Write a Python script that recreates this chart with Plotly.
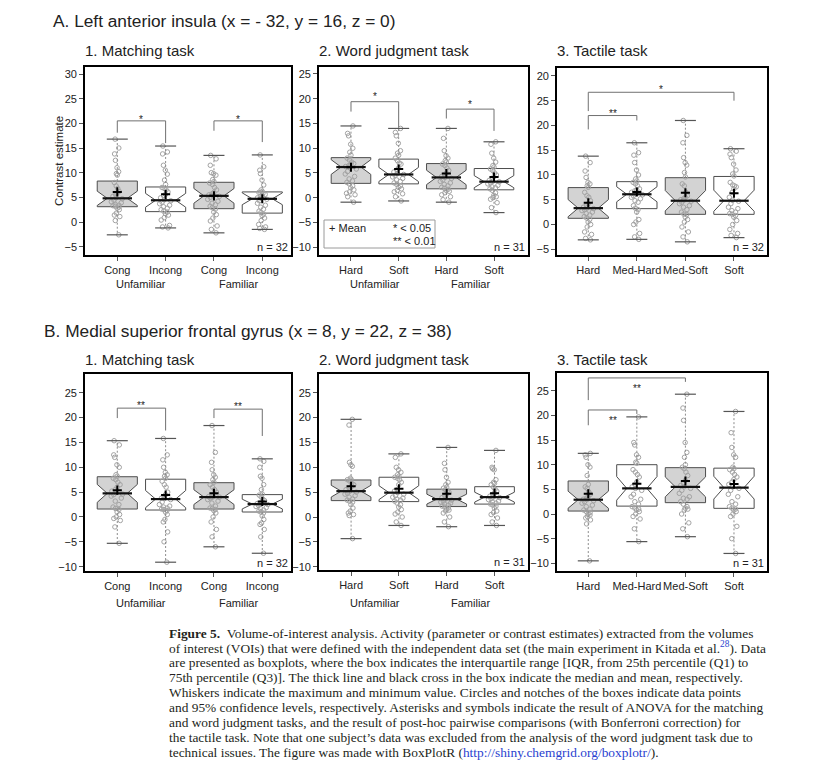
import plotly.graph_objects as go

# page is shown with an 8px body margin; figure sized to fit inside 813x771
W, H = 813, 771
OFF = 8
FW, FH = W - 2 * OFF, H - 2 * OFF
SANS = "Liberation Sans, Arial, sans-serif"
SERIF = "Liberation Serif, Times New Roman, serif"

# ---------------- data ----------------
match_cats = ["Cong", "Incong", "Cong", "Incong"]
match_groups = ["Unfamiliar", "Familiar"]
word_cats = ["Hard", "Soft", "Hard", "Soft"]
word_groups = ["Unfamiliar", "Familiar"]
tactile_cats = ["Hard", "Med-Hard", "Med-Soft", "Soft"]

yticks_a1 = [-5, 0, 5, 10, 15, 20, 25, 30]
yticks_a3 = [-5, 0, 5, 10, 15, 20, 25, 30]
yticktext_a3 = ["\u22125", "0", "5", "10", "15", "20", "25", "20"]
yticks_b = [-10, -5, 0, 5, 10, 15, 20, 25]

# A1 matching task (n = 32)
a1_q1 = [3.1, 2.1, 2.7, 1.8]
a1_median = [4.8, 4.4, 5.3, 4.7]
a1_q3 = [8.3, 7.1, 8.05, 6.1]
a1_min = [-2.6, -1.2, -2.2, -1.5]
a1_max = [16.8, 15.4, 13.5, 13.6]
a1_mean = [6.1, 5.6, 5.3, 4.7]
a1_notch = [1.45, 1.40, 1.49, 1.20]
a1_points = [
    [16.8, 15.0, 13.8, 12.5, 11.0, 10.2, 9.8, 9.5, 8.0, 7.3, 6.8, 6.2, 5.9, 5.5, 5.2, 4.9,
     4.7, 4.4, 4.1, 3.9, 3.6, 3.4, 3.3, 3.2, 3.0, 2.8, 2.5, 1.8, 1.4, 1.1, 0.3, -2.6],
    [15.4, 14.2, 13.8, 11.5, 10.5, 9.7, 8.5, 7.6, 7.0, 6.8, 6.5, 6.1, 5.6, 5.3, 4.9, 4.5,
     4.3, 4.0, 3.7, 3.4, 3.1, 2.8, 2.5, 2.2, 2.0, 1.7, 1.4, 0.9, 0.4, -0.7, -1.0, -1.2],
    [13.5, 12.8, 11.5, 10.0, 9.8, 9.5, 8.6, 8.2, 7.9, 7.6, 7.0, 6.5, 6.0, 5.7, 5.5, 5.4,
     5.2, 5.0, 4.6, 4.2, 3.8, 3.5, 3.2, 2.9, 2.6, 2.0, 1.5, 0.8, 0.2, -0.8, -1.5, -2.2],
    [13.6, 11.2, 10.5, 9.8, 8.5, 7.5, 6.5, 6.2, 6.0, 5.9, 5.8, 5.6, 5.3, 5.1, 4.9, 4.8,
     4.6, 4.3, 3.8, 3.4, 3.0, 2.6, 2.2, 1.9, 1.6, 1.3, 0.8, 0.3, -0.5, -1.0, -1.3, -1.5],
]

# A2 word judgment task (n = 31)
a2_q1 = [2.9, 2.8, 1.8, 1.6]
a2_median = [6.2, 4.7, 4.1, 3.25]
a2_q3 = [8.1, 7.8, 6.9, 5.9]
a2_min = [-0.9, -0.65, -0.9, -3.0]
a2_max = [14.5, 14.0, 14.0, 11.3]
a2_mean = [6.15, 5.8, 4.9, 4.2]
a2_notch = [1.48, 1.42, 1.45, 1.22]
a2_points = [
    [14.5, 13.0, 12.5, 10.8, 10.0, 9.2, 8.6, 8.0, 7.6, 7.2, 6.9, 6.7, 6.5, 6.3, 6.2, 5.8,
     5.3, 4.8, 4.3, 3.8, 3.4, 3.1, 2.8, 2.4, 2.0, 1.6, 1.2, 0.9, 0.6, 0.2, -0.9],
    [14.0, 13.2, 12.5, 11.0, 9.5, 9.0, 8.6, 8.0, 7.5, 7.0, 6.8, 6.0, 5.6, 5.2, 4.9, 4.7,
     4.5, 4.2, 3.9, 3.6, 3.3, 3.0, 2.7, 2.4, 2.1, 1.8, 1.5, 1.2, 0.8, 0.2, -0.65],
    [14.0, 12.0, 9.5, 8.5, 8.0, 7.5, 7.2, 6.8, 6.5, 6.0, 5.5, 5.0, 4.6, 4.3, 4.1, 3.9,
     3.6, 3.3, 3.0, 2.7, 2.4, 2.1, 1.9, 1.7, 1.5, 1.3, 1.0, 0.6, 0.2, -0.4, -0.9],
    [11.3, 10.8, 9.0, 8.0, 7.2, 6.5, 6.2, 5.8, 5.5, 5.0, 4.6, 4.2, 3.8, 3.5, 3.3, 3.2,
     3.0, 2.8, 2.5, 2.2, 2.0, 1.8, 1.5, 1.0, 0.5, 0.2, 0.0, -0.3, -1.0, -2.0, -3.0],
]

# A3 tactile task (n = 32)
a3_q1 = [1.25, 3.2, 2.05, 2.05]
a3_median = [3.3, 6.1, 4.8, 4.8]
a3_q3 = [7.45, 8.65, 9.45, 9.7]
a3_min = [-3.1, -3.0, -3.5, -2.65]
a3_max = [13.8, 16.5, 21.0, 15.3]
a3_mean = [4.4, 6.55, 6.4, 6.3]
a3_notch = [1.73, 1.52, 2.06, 2.13]
a3_points = [
    [13.8, 12.5, 10.8, 9.5, 8.5, 8.2, 7.8, 7.5, 6.5, 5.8, 5.5, 4.8, 4.2, 3.8, 3.5, 3.3,
     3.2, 3.0, 2.8, 2.5, 2.2, 1.9, 1.6, 1.3, 1.0, 0.5, 0.0, -0.5, -1.5, -2.0, -2.8, -3.1],
    [16.5, 14.5, 14.0, 12.5, 11.0, 10.0, 9.2, 8.8, 8.5, 8.2, 7.8, 7.2, 7.0, 6.8, 6.5, 6.2,
     6.0, 5.8, 5.5, 5.2, 4.8, 4.5, 3.8, 3.3, 3.0, 2.5, 1.0, 0.5, 0.0, -1.8, -2.5, -3.0],
    [21.0, 18.0, 16.5, 13.5, 12.5, 12.0, 10.5, 9.6, 8.2, 7.8, 6.5, 5.8, 5.5, 5.2, 5.0, 4.9,
     4.7, 4.5, 4.2, 3.8, 3.5, 3.0, 2.5, 2.1, 2.0, 1.5, 1.0, 0.5, -0.5, -1.5, -2.5, -3.5],
    [15.3, 14.8, 14.2, 13.5, 12.2, 11.0, 10.2, 9.8, 8.5, 8.0, 7.8, 7.6, 7.2, 6.5, 5.5, 4.9,
     4.7, 4.2, 3.5, 3.2, 2.8, 2.5, 2.2, 2.1, 1.8, 1.5, 0.8, 0.0, -1.0, -1.8, -2.2, -2.65],
]

# B1 matching task (n = 32)
b1_q1 = [1.6, 1.4, 1.6, 1.0]
b1_median = [4.75, 3.6, 4.0, 2.6]
b1_q3 = [8.1, 7.6, 6.9, 4.5]
b1_min = [-5.3, -9.1, -6.0, -7.3]
b1_max = [15.35, 15.8, 18.4, 11.7]
b1_mean = [5.4, 4.4, 4.75, 3.1]
b1_notch = [1.81, 1.73, 1.48, 0.98]
b1_points = [
    [15.35, 14.5, 12.5, 12.0, 10.5, 10.0, 8.5, 8.2, 7.8, 7.5, 7.0, 6.5, 6.0, 5.5, 5.2, 4.9,
     4.6, 4.5, 4.2, 3.8, 3.2, 2.5, 2.0, 1.7, 1.5, 1.0, 0.5, 0.0, -0.3, -0.7, -2.0, -5.3],
    [15.8, 12.5, 11.5, 10.0, 9.0, 8.5, 8.2, 7.8, 7.2, 6.5, 6.0, 5.0, 4.5, 4.0, 3.8, 3.7,
     3.5, 3.0, 2.5, 2.2, 2.0, 1.8, 1.6, 1.5, 1.3, 1.0, 0.5, -0.5, -1.0, -3.0, -5.0, -9.1],
    [18.4, 13.0, 11.0, 9.5, 8.5, 8.0, 7.5, 7.0, 6.5, 6.0, 5.5, 5.0, 4.6, 4.3, 4.1, 4.0,
     4.0, 3.8, 3.5, 3.2, 2.8, 2.2, 1.8, 1.7, 1.5, 1.3, 0.8, 0.0, -1.0, -2.5, -4.0, -6.0],
    [11.7, 11.2, 10.0, 8.2, 7.8, 6.5, 5.5, 4.6, 4.4, 4.0, 3.6, 3.3, 3.0, 2.8, 2.7, 2.6,
     2.5, 2.3, 2.1, 1.9, 1.7, 1.4, 1.2, 1.0, 0.8, 0.2, -0.5, -1.2, -1.5, -2.5, -4.0, -7.3],
]

# B2 word judgment task (n = 31)
b2_q1 = [3.3, 3.1, 2.1, 2.6]
b2_median = [5.2, 4.9, 3.6, 4.0]
b2_q3 = [7.45, 8.0, 5.6, 6.1]
b2_min = [-4.35, -1.7, -1.95, -1.7]
b2_max = [19.65, 12.7, 14.0, 13.4]
b2_mean = [6.2, 5.7, 4.7, 4.8]
b2_notch = [1.18, 1.39, 0.99, 0.99]
b2_points = [
    [19.65, 18.5, 11.0, 10.5, 10.2, 7.8, 7.6, 7.5, 7.2, 6.8, 6.5, 6.0, 5.8, 5.5, 5.2, 5.0,
     4.8, 4.6, 4.3, 4.0, 3.6, 3.4, 3.2, 3.0, 2.5, 1.8, 1.2, 0.8, 0.5, 0.3, -4.35],
    [12.7, 12.0, 10.0, 9.5, 9.0, 8.5, 8.2, 8.0, 7.8, 7.5, 7.0, 6.5, 5.5, 5.2, 4.9, 4.6,
     4.3, 4.0, 3.8, 3.6, 3.4, 3.2, 2.8, 2.5, 2.0, 1.5, 1.0, 0.6, 0.0, -1.0, -1.7],
    [14.0, 10.8, 9.5, 8.0, 7.0, 6.5, 6.0, 5.8, 5.5, 5.2, 5.0, 4.6, 4.2, 3.9, 3.6, 3.4,
     3.2, 3.0, 2.8, 2.6, 2.4, 2.2, 2.0, 1.8, 1.6, 1.4, 1.2, 0.8, 0.0, -1.0, -1.95],
    [13.4, 10.0, 9.7, 9.5, 7.5, 7.0, 6.8, 6.5, 6.0, 5.6, 5.2, 4.8, 4.5, 4.2, 4.0, 3.9,
     3.7, 3.5, 3.2, 3.0, 2.8, 2.6, 2.4, 2.2, 1.8, 1.2, 0.9, 0.5, -0.2, -1.0, -1.7],
]

# B3 tactile task (n = 31)
b3_q1 = [0.6, 1.6, 2.3, 1.15]
b3_median = [2.9, 5.2, 5.5, 5.35]
b3_q3 = [6.7, 10.0, 9.4, 9.3]
b3_min = [-9.5, -5.6, -4.6, -8.0]
b3_max = [12.3, 19.7, 24.3, 20.8]
b3_mean = [4.1, 6.15, 6.7, 6.1]
b3_notch = [1.73, 2.39, 2.02, 2.31]
b3_points = [
    [12.3, 12.0, 11.5, 10.0, 9.5, 7.8, 6.0, 5.5, 5.2, 4.5, 4.0, 3.5, 3.2, 3.0, 2.9, 2.7,
     2.5, 2.2, 1.8, 1.5, 1.0, 0.8, 0.5, 0.3, 0.0, -0.2, -0.5, -0.8, -1.2, -2.0, -9.5],
    [19.7, 14.5, 14.0, 12.0, 11.5, 10.5, 10.3, 9.0, 8.5, 8.0, 7.5, 6.5, 6.0, 5.5, 5.2, 4.8,
     4.0, 3.5, 3.0, 2.5, 2.0, 1.5, 1.2, 1.0, 0.8, 0.5, 0.0, -0.5, -1.0, -3.0, -5.6],
    [24.3, 21.5, 19.0, 14.5, 12.5, 11.5, 10.0, 9.5, 9.2, 8.5, 7.8, 6.8, 6.2, 5.8, 5.5, 5.2,
     4.8, 4.2, 3.5, 3.2, 3.0, 2.5, 2.0, 1.5, 1.2, 1.0, 0.8, 0.0, -1.8, -3.0, -4.6],
    [20.8, 16.5, 13.5, 12.0, 11.5, 9.5, 9.2, 9.0, 8.5, 8.0, 7.5, 7.0, 6.5, 6.0, 5.5, 5.2,
     4.8, 4.0, 3.5, 2.5, 2.0, 1.5, 1.2, 1.0, 0.8, 0.5, 0.0, -0.5, -2.5, -5.0, -8.0],
]

n_labels = ["n = 32", "n = 31", "n = 32", "n = 32", "n = 31", "n = 31"]

# significance brackets: (panel, from, to, top, left-leg end, right-leg end, label, label value)
brackets = [
    (0, 0, 1, 20.5, 18.1, 16.0, "*", 21.3),
    (0, 2, 3, 20.5, 18.5, 16.2, "*", 21.3),
    (1, 0, 1, 19.4, 17.4, 14.2, "*", 21.0),
    (1, 2, 3, 17.9, 16.0, 13.5, "*", 19.5),
    (2, 0, 3, 26.7, 22.9, 25.0, "*", 27.8),
    (2, 0, 1, 22.0, 19.2, 21.0, "**", 23.0),
    (3, 0, 1, 21.9, 19.9, 17.4, "**", 23.1),
    (3, 2, 3, 21.7, 19.9, 16.3, "**", 22.8),
    (5, 0, 2, 27.6, 23.1, 26.8, "**", 26.0),
    (5, 0, 1, 21.1, 18.0, 20.3, "**", 19.5),
]

section_titles = ["A. Left anterior insula (x = - 32, y = 16, z = 0)",
                  "B. Medial superior frontal gyrus (x = 8, y = 22, z = 38)"]
panel_titles = ["1. Matching task", "2. Word judgment task", "3. Tactile task"]
y_title = "Contrast estimate"

LINK = "#2a3fd0"
caption_lines = [
    "<b>Figure 5.</b>\u00a0\u00a0Volume-of-interest analysis. Activity (parameter or contrast estimates) extracted from the volumes",
    "of interest (VOIs) that were defined with the independent data set (the main experiment in Kitada et al.<span style='color:%s'><sup>28</sup></span>). Data" % LINK,
    "are presented as boxplots, where the box indicates the interquartile range [IQR, from 25th percentile (Q1) to",
    "75th percentile (Q3)]. The thick line and black cross in the box indicate the median and mean, respectively.",
    "Whiskers indicate the maximum and minimum value. Circles and notches of the boxes indicate data points",
    "and 95% confidence levels, respectively. Asterisks and symbols indicate the result of ANOVA for the matching",
    "and word judgment tasks, and the result of post-hoc pairwise comparisons (with Bonferroni correction) for",
    "the tactile task. Note that one subject\u2019s data was excluded from the analysis of the word judgment task due to",
    "technical issues. The figure was made with BoxPlotR (<span style='color:%s'>http://shiny.chemgrid.org/boxplotr/</span>)." % LINK,
]


# ---------------- layout helpers (page pixels -> paper) ----------------
def px(x):
    return (x - OFF) / FW


def py(y):
    return 1 - (y - OFF) / FH


panels = [
    dict(cats=match_cats, groups=match_groups, q1=a1_q1, med=a1_median, q3=a1_q3, lo=a1_min, hi=a1_max,
         mean=a1_mean, notch=a1_notch, pts=a1_points, yt=yticks_a1, ytt=None,
         box=(85, 291, 67, 255), xr=(-0.668, 3.594), yr=(-6.69, 31.42)),
    dict(cats=word_cats, groups=word_groups, q1=a2_q1, med=a2_median, q3=a2_q3, lo=a2_min, hi=a2_max,
         mean=a2_mean, notch=a2_notch, pts=a2_points, yt=yticks_b, ytt=None,
         box=(319, 528, 67, 255), xr=(-0.671, 3.713), yr=(-11.57, 26.41)),
    dict(cats=tactile_cats, groups=None, q1=a3_q1, med=a3_median, q3=a3_q3, lo=a3_min, hi=a3_max,
         mean=a3_mean, notch=a3_notch, pts=a3_points, yt=yticks_a3, ytt=yticktext_a3,
         box=(557, 767, 68, 255), xr=(-0.644, 3.68), yr=(-6.16, 31.6)),
    dict(cats=match_cats, groups=match_groups, q1=b1_q1, med=b1_median, q3=b1_q3, lo=b1_min, hi=b1_max,
         mean=b1_mean, notch=b1_notch, pts=b1_points, yt=yticks_b, ytt=None,
         box=(85, 291, 374, 571), xr=(-0.668, 3.594), yr=(-10.87, 28.77)),
    dict(cats=word_cats, groups=word_groups, q1=b2_q1, med=b2_median, q3=b2_q3, lo=b2_min, hi=b2_max,
         mean=b2_mean, notch=b2_notch, pts=b2_points, yt=yticks_b, ytt=None,
         box=(319, 528, 374, 570), xr=(-0.671, 3.70), yr=(-10.66, 28.77)),
    dict(cats=tactile_cats, groups=None, q1=b3_q1, med=b3_median, q3=b3_q3, lo=b3_min, hi=b3_max,
         mean=b3_mean, notch=b3_notch, pts=b3_points, yt=yticks_b, ytt=None,
         box=(557, 767, 373, 571), xr=(-0.644, 3.68), yr=(-11.56, 28.6)),
]

GRAY = "#d3d3d3"
EDGE = "#4d4d4d"
BW = 0.83
TXT = "#222222"

fig = go.Figure()
annotations = []
shapes = []
layout_axes = {}

for k, p in enumerate(panels):
    sfx = "" if k == 0 else str(k + 1)
    xa, ya = "x" + sfx, "y" + sfx
    ncat = len(p["cats"])
    pos = list(range(ncat))

    # boxes with notches (precomputed stats)
    for i in pos:
        fig.add_trace(go.Box(
            x=[i], q1=[p["q1"][i]], median=[p["med"][i]], q3=[p["q3"][i]],
            lowerfence=[p["q1"][i]], upperfence=[p["q3"][i]],
            notched=True, notchspan=[p["notch"][i]], notchwidth=0.25,
            orientation="v", width=BW, whiskerwidth=0, boxpoints=False,
            fillcolor=GRAY if i % 2 == 0 else "white",
            line=dict(color=EDGE, width=1), xaxis=xa, yaxis=ya,
            showlegend=False, hoverinfo="skip"))
    # data points (jittered)
    for i in pos:
        fig.add_trace(go.Box(
            x=[i] * len(p["pts"][i]), y=p["pts"][i], orientation="v",
            boxpoints="all", jitter=0.32, pointpos=0, width=BW, whiskerwidth=0,
            fillcolor="rgba(0,0,0,0)", line=dict(color="rgba(0,0,0,0)", width=0),
            marker=dict(symbol="circle-open", size=4.5, color="#a3a3a3", line=dict(width=1)),
            xaxis=xa, yaxis=ya, showlegend=False, hoverinfo="skip"))
    # whiskers (dotted)
    wx, wy = [], []
    for i in pos:
        wx += [i, i, None, i, i, None]
        wy += [p["q3"][i], p["hi"][i], None, p["q1"][i], p["lo"][i], None]
    fig.add_trace(go.Scatter(x=wx, y=wy, mode="lines", line=dict(color="#8c8c8c", width=1, dash="2px,2px"),
                             xaxis=xa, yaxis=ya, showlegend=False, hoverinfo="skip"))
    # whisker caps
    fig.add_trace(go.Scatter(x=pos + pos, y=p["hi"] + p["lo"], mode="markers",
                             marker=dict(symbol="line-ew", size=15, line=dict(color="#555555", width=1.2)),
                             xaxis=xa, yaxis=ya, showlegend=False, hoverinfo="skip"))
    # thick medians
    fig.add_trace(go.Scatter(x=pos, y=p["med"], mode="markers",
                             marker=dict(symbol="line-ew", size=21, line=dict(color="#111111", width=2.2)),
                             xaxis=xa, yaxis=ya, showlegend=False, hoverinfo="skip"))
    # means
    fig.add_trace(go.Scatter(x=pos, y=p["mean"], mode="markers",
                             marker=dict(symbol="cross-thin", size=6.5, line=dict(color="black", width=2)),
                             xaxis=xa, yaxis=ya, showlegend=False, hoverinfo="skip"))

    x0, x1, y0, y1 = p["box"]
    common = dict(showline=True, mirror=True, linecolor="black", linewidth=1.6, showgrid=False,
                  zeroline=False, ticks="outside", ticklen=4, tickwidth=1, tickcolor="#555555",
                  tickangle=0, tickfont=dict(family=SANS, size=11, color=TXT))
    layout_axes["xaxis" + sfx] = dict(domain=[px(x0), px(x1)], range=list(p["xr"]), anchor=ya,
                                      tickmode="array", tickvals=pos, ticktext=p["cats"], **common)
    yax = dict(domain=[py(y1), py(y0)], range=list(p["yr"]), anchor=xa, tickmode="array",
               tickvals=p["yt"], **common)
    if p["ytt"] is not None:
        yax["ticktext"] = p["ytt"]
    layout_axes["yaxis" + sfx] = yax

    # group labels
    if p["groups"]:
        gy = 284 if k < 3 else 603
        for g, name in enumerate(p["groups"]):
            annotations.append(dict(text=name, x=2 * g + 0.5, xref=xa, y=py(gy), yref="paper",
                                    showarrow=False, xanchor="center", yanchor="middle",
                                    font=dict(family=SANS, size=11, color=TXT)))
    # n label
    annotations.append(dict(text=n_labels[k], x=px(x1), y=py(y1), xref="paper", yref="paper",
                            xanchor="right", yanchor="bottom", xshift=-1, yshift=0, showarrow=False,
                            font=dict(family=SANS, size=11, color=TXT)))
    # panel title
    ty = 51 if k < 3 else 359
    annotations.append(dict(text=panel_titles[k % 3], x=px(x0 - 2), y=py(ty), xref="paper", yref="paper",
                            xanchor="left", yanchor="middle", showarrow=False,
                            font=dict(family=SANS, size=15, color=TXT)))

# brackets
for (k, i, j, top, lb, rb, lab, ly) in brackets:
    sfx = "" if k == 0 else str(k + 1)
    xa, ya = "x" + sfx, "y" + sfx
    fig.add_trace(go.Scatter(x=[i, i, j, j], y=[lb, top, top, rb], mode="lines",
                             line=dict(color="#707070", width=1), xaxis=xa, yaxis=ya,
                             showlegend=False, hoverinfo="skip"))
    annotations.append(dict(text=lab, x=(i + j) / 2, y=ly, xref=xa, yref=ya, showarrow=False,
                            xanchor="center", yanchor="middle", yshift=-3,
                            font=dict(family=SANS, size=10, color=TXT)))

# section titles
annotations.append(dict(text=section_titles[0], x=px(51), y=py(21), xref="paper", yref="paper",
                        xanchor="left", yanchor="middle", showarrow=False,
                        font=dict(family=SANS, size=17.3, color=TXT)))
annotations.append(dict(text=section_titles[1], x=px(42), y=py(331), xref="paper", yref="paper",
                        xanchor="left", yanchor="middle", showarrow=False,
                        font=dict(family=SANS, size=17.3, color=TXT)))
# y title
annotations.append(dict(text=y_title, x=px(59), y=py(161), xref="paper", yref="paper", textangle=-90,
                        xanchor="center", yanchor="middle", showarrow=False,
                        font=dict(family=SANS, size=11.5, color=TXT)))

# legend box in word judgment panel A
shapes.append(dict(type="rect", xref="paper", yref="paper", x0=px(324), x1=px(435), y0=py(248), y1=py(220),
                   line=dict(color="#9a9a9a", width=1), fillcolor="white"))
annotations.append(dict(text="+ Mean", x=px(327), y=py(228.5), xref="paper", yref="paper", xanchor="left",
                        yanchor="middle", showarrow=False, font=dict(family=SANS, size=11, color=TXT)))
annotations.append(dict(text="* < 0.05", x=px(391), y=py(228.5), xref="paper", yref="paper", xanchor="left",
                        yanchor="middle", showarrow=False, font=dict(family=SANS, size=11, color=TXT)))
annotations.append(dict(text="** < 0.01", x=px(391), y=py(240.5), xref="paper", yref="paper", xanchor="left",
                        yanchor="middle", showarrow=False, font=dict(family=SANS, size=11, color=TXT)))

# caption
for li, line in enumerate(caption_lines):
    annotations.append(dict(text=line, x=px(167), y=py(633 + li * 14.9), xref="paper", yref="paper",
                            xanchor="left", yanchor="middle", showarrow=False,
                            font=dict(family=SERIF, size=13.4, color="#231f20")))

fig.update_layout(template="none", width=FW, height=FH, margin=dict(l=0, r=0, t=0, b=0),
                  paper_bgcolor="white", plot_bgcolor="white", boxmode="overlay", showlegend=False,
                  annotations=annotations, shapes=shapes, **layout_axes)

fig.write_html("out.html")
